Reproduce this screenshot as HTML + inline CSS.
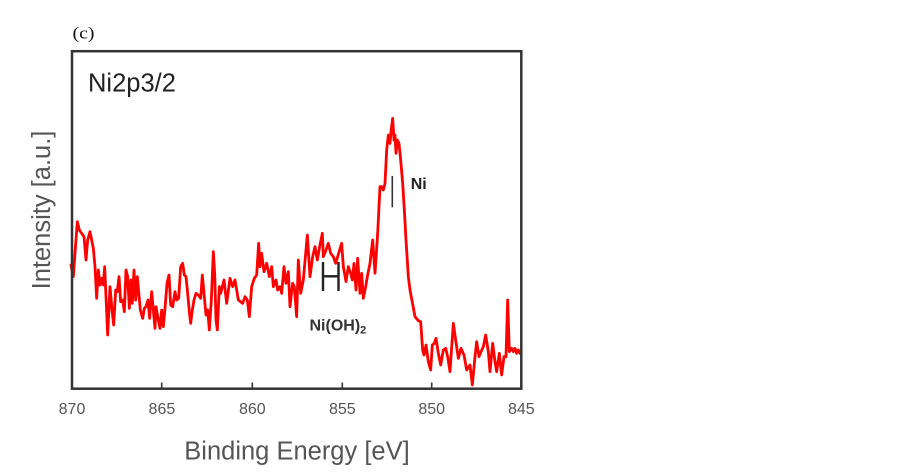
<!DOCTYPE html>
<html>
<head>
<meta charset="utf-8">
<style>
  html, body { margin: 0; padding: 0; background: #ffffff; }
  body { width: 900px; height: 472px; overflow: hidden; }
  svg { display: block; }
</style>
</head>
<body>
<svg width="900" height="472" viewBox="0 0 900 472" xmlns="http://www.w3.org/2000/svg">
  <rect x="0" y="0" width="900" height="472" fill="#ffffff"/>

  <!-- panel label -->
  <text x="72.5" y="38.5" font-family="Liberation Serif, serif" font-size="17" fill="#111" textLength="22" lengthAdjust="spacingAndGlyphs">(c)</text>

  <!-- data curve -->
  <g transform="translate(60,200) scale(0.333333)">
    <polyline fill="none" stroke="#ff0000" stroke-width="8.4" stroke-linejoin="round" stroke-linecap="round"
      points="33,195 40,230 45,160 52,65 58,90 65,100 72,110 78,180 83,120 90,95 95,120 100,145 105,200 110,295 115,210 120,255 125,235 130,255 134,200 138,290 143,405 150,260 156,330 161,375 167,270 172,275 177,230 182,305 188,300 193,335 198,210 203,230 208,325 213,240 217,310 222,210 227,300 232,230 236,275 241,330 248,355 253,325 258,320 264,300 269,355 275,275 280,330 285,385 288,320 294,355 300,385 305,330 310,380 315,325 321,250 327,225 332,315 338,320 345,275 350,300 356,295 362,200 368,190 373,225 378,230 383,280 388,335 392,370 397,330 402,300 408,280 415,285 422,295 427,225 432,280 438,345 443,330 448,390 454,300 460,155 464,220 468,360 472,390 478,260 482,280 492,240 500,310 510,235 518,260 525,240 535,300 548,310 555,290 562,300 568,350 575,260 583,235 590,225 596,130 600,200 605,160 612,215 620,190 628,230 635,200 640,260 648,240 653,270 660,260 665,280 672,200 678,250 685,215 690,320 698,250 703,260 710,350 715,180 722,280 730,240 742,105 750,230 758,170 765,140 772,180 778,145 787,100 790,170 798,150 805,130 812,160 820,170 827,190 845,130 850,200 858,245 865,200 872,220 877,240 882,190 888,270 893,175 900,280 905,220 910,295 917,260 922,230 930,190 938,120 945,220 953,100 960,-40 965,-40 970,-30 975,-50 980,-150 985,-195 990,-170 993,-205 998,-245 1002,-180 1005,-195 1008,-140 1012,-180 1017,-170 1022,-120 1028,-50 1033,30 1038,120 1045,230 1050,270 1065,350 1075,362 1082,365 1088,450 1092,465 1098,435 1105,485 1112,510 1117,435 1123,430 1128,415 1135,460 1142,495 1150,450 1157,445 1163,470 1170,515 1180,370 1187,420 1195,475 1203,445 1212,465 1220,510 1230,495 1237,555 1245,470 1250,425 1257,470 1263,455 1270,440 1277,405 1285,455 1290,515 1298,430 1305,485 1310,515 1318,460 1325,525 1332,470 1338,470 1343,300 1348,455 1355,445 1360,455 1365,445 1370,460 1375,450 1380,460 1383,455"/>
  </g>

  <!-- frame -->
  <rect x="72" y="51.2" width="449.3" height="337.5" fill="none" stroke="#333333" stroke-width="2.5"/>

  <!-- ticks -->
  <g stroke="#333333" stroke-width="1.6">
    <line x1="161.7" y1="382.5" x2="161.7" y2="388"/>
    <line x1="252.3" y1="382.5" x2="252.3" y2="388"/>
    <line x1="342.3" y1="382.5" x2="342.3" y2="388"/>
    <line x1="431.7" y1="382.5" x2="431.7" y2="388"/>
  </g>

  <!-- tick labels -->
  <g font-family="Liberation Sans, Arial, sans-serif" font-size="16" fill="#555555" text-anchor="middle">
    <text x="72" y="414">870</text>
    <text x="161.9" y="414">865</text>
    <text x="252.3" y="414">860</text>
    <text x="342.3" y="414">855</text>
    <text x="431.7" y="414">850</text>
    <text x="521.3" y="414">845</text>
  </g>

  <!-- axis labels -->
  <text x="297" y="459.3" font-family="Liberation Sans, Arial, sans-serif" font-size="25.5" fill="#555555" text-anchor="middle">Binding Energy [eV]</text>
  <text transform="translate(50,210) rotate(-90)" font-family="Liberation Sans, Arial, sans-serif" font-size="25.5" fill="#555555" text-anchor="middle">Intensity [a.u.]</text>

  <!-- in-plot title -->
  <text x="88" y="91.7" font-family="Liberation Sans, Arial, sans-serif" font-size="25.5" fill="#222222">Ni2p3/2</text>

  <!-- Ni marker -->
  <line x1="392.3" y1="176" x2="392.3" y2="207.3" stroke="#333333" stroke-width="1.6"/>
  <text x="410.7" y="189" font-family="Liberation Sans, Arial, sans-serif" font-size="16" font-weight="bold" fill="#222222">Ni</text>

  <!-- Ni(OH)2 marker (H shape) -->
  <g stroke="#222222" stroke-width="2.4">
    <line x1="323" y1="262" x2="323" y2="291"/>
    <line x1="338.5" y1="262" x2="338.5" y2="291"/>
    <line x1="323" y1="276.3" x2="338.5" y2="276.3"/>
  </g>
  <text x="309.5" y="330.5" font-family="Liberation Sans, Arial, sans-serif" font-size="16" font-weight="bold" fill="#333333">Ni(OH)<tspan font-size="11" dy="3">2</tspan></text>
</svg>
</body>
</html>
